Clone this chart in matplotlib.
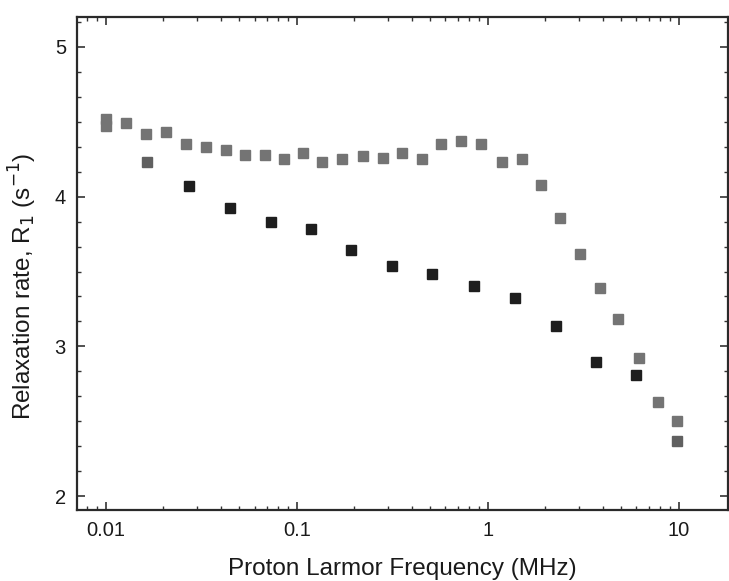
import matplotlib
matplotlib.use("Agg")
import matplotlib.pyplot as plt
from matplotlib.ticker import LogLocator, MultipleLocator, FixedLocator, NullFormatter

plt.rcParams["font.family"] = ["Liberation Sans", "DejaVu Sans"]

# grey series (upper curve), MHz / s^-1
freq_a = [0.01, 0.01, 0.0127, 0.0162, 0.0206, 0.0262, 0.0333, 0.0423, 0.0532,
          0.0677, 0.086, 0.108, 0.136, 0.173, 0.2225, 0.283, 0.3555, 0.452,
          0.568, 0.723, 0.919, 1.183, 1.505, 1.891, 2.377, 3.023, 3.845,
          4.832, 6.219, 7.816, 9.822]
r1_a = [4.52, 4.47, 4.49, 4.42, 4.43, 4.35, 4.33, 4.31, 4.28, 4.28, 4.25,
        4.29, 4.23, 4.25, 4.27, 4.26, 4.29, 4.25, 4.35, 4.37, 4.35, 4.23,
        4.25, 4.08, 3.86, 3.62, 3.39, 3.18, 2.92, 2.63, 2.50]

# dark series (lower curve)
freq_b = [0.0164, 0.0271, 0.0444, 0.0736, 0.119, 0.1926, 0.3153, 0.5101,
          0.8454, 1.384, 2.265, 3.664, 5.999, 9.822]
r1_b = [4.23, 4.07, 3.925, 3.83, 3.785, 3.645, 3.54, 3.485, 3.40, 3.325,
        3.135, 2.895, 2.81, 2.37]

x_ticks = [0.01, 0.1, 1, 10]
x_ticklabels = ["0.01", "0.1", "1", "10"]
y_ticks = [2, 3, 4, 5]

fig = plt.figure(figsize=(7.29, 5.81), dpi=100)
ax = fig.add_axes([77 / 729, 1 - 510 / 581, 650.5 / 729, 493 / 581])

ax.plot(freq_a, r1_a, "s", ms=7.5, color="#747474", mec="#747474", ls="none")
ax.plot(freq_b[:1], r1_b[:1], "s", ms=7.5, color="#606060", mec="#606060", ls="none")
ax.plot(freq_b[1:-1], r1_b[1:-1], "s", ms=7.5, color="#1e1e1e", mec="#1e1e1e", ls="none")
ax.plot(freq_b[-1:], r1_b[-1:], "s", ms=7.5, color="#606060", mec="#606060", ls="none")

ax.set_xscale("log")
ax.set_xlim(0.00705, 18.0)
ax.set_ylim(1.907, 5.2)

ax.xaxis.set_major_locator(FixedLocator(x_ticks))
ax.set_xticklabels(x_ticklabels)
ax.xaxis.set_minor_locator(LogLocator(base=10, subs=range(2, 10), numticks=20))
ax.xaxis.set_minor_formatter(NullFormatter())
ax.yaxis.set_major_locator(FixedLocator(y_ticks))
ax.yaxis.set_minor_locator(MultipleLocator(1 / 6))

ax.tick_params(which="both", direction="in", top=True, right=True,
               color="#333333", labelsize=14.5, labelcolor="#1a1a1a")
ax.tick_params(which="major", length=6, width=1.2, pad=8)
ax.tick_params(which="minor", length=3, width=1.0)

for s in ax.spines.values():
    s.set_color("#2a2a2a")
    s.set_linewidth(1.6)

ax.set_xlabel("Proton Larmor Frequency (MHz)", fontsize=17.5, color="#1a1a1a", labelpad=13)
ax.set_ylabel("Relaxation rate, R$_1$ (s$^{-1}$)", fontsize=17.5, color="#1a1a1a")
ax.yaxis.set_label_coords(-0.058, 0.454)

fig.savefig("out.png", dpi=100)
